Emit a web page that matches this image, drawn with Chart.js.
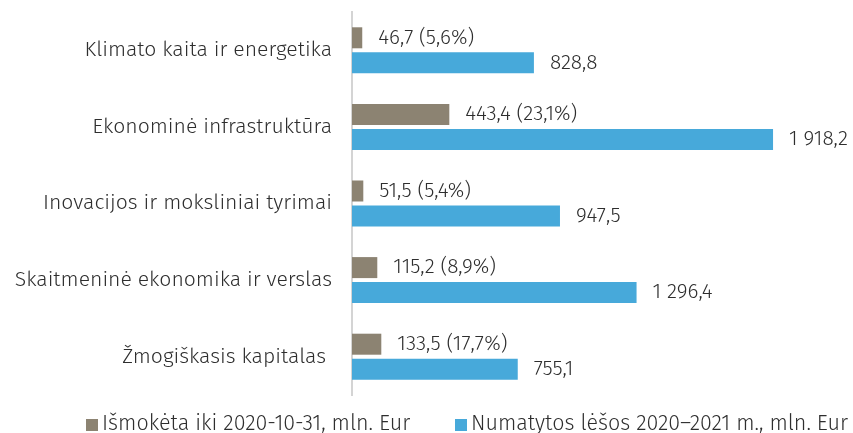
<!DOCTYPE html>
<html lang="lt">
<head>
<meta charset="utf-8">
<script src="https://cdn.jsdelivr.net/npm/chart.js@4.4.1/dist/chart.umd.min.js"></script>
<style>
  html, body { margin: 0; padding: 0; background: #ffffff; }
  #wrap { width: 853px; height: 433px; position: relative; }
</style>
</head>
<body>
<div id="wrap"><canvas id="chart"></canvas></div>
<script>
// Investment areas and funding (mln. Eur)
const categories = [
  'Klimato kaita ir energetika',
  'Ekonominė infrastruktūra',
  'Inovacijos ir moksliniai tyrimai',
  'Skaitmeninė ekonomika ir verslas',
  'Žmogiškasis kapitalas '
];
const paidLabel = 'Išmokėta iki 2020-10-31, mln. Eur';
const plannedLabel = 'Numatytos lėšos 2020–2021 m., mln. Eur';
const paidValues = [46.7, 443.4, 51.5, 115.2, 133.5];
const paidShare = [5.6, 23.1, 5.4, 8.9, 17.7];
const plannedValues = [828.8, 1918.2, 947.5, 1296.4, 755.1];

const FONT = '"Fira Sans", "Open Sans", "Noto Sans", sans-serif';
const TEXT_COLOR = '#2e2e2e';
const GREY = '#8c8372';
const BLUE = '#47a9da';

// Lithuanian number format: space as thousands separator, comma as decimal
function fmt(v) {
  const [i, d] = v.toFixed(1).split('.');
  return i.replace(/\B(?=(\d{3})+(?!\d))/g, ' ') + ',' + d;
}

// Value labels to the right of each bar
const valueLabels = {
  id: 'valueLabels',
  afterDatasetsDraw(chart) {
    const ctx = chart.ctx;
    ctx.save();
    ctx.font = '300 20.8px ' + FONT;
    ctx.fillStyle = TEXT_COLOR;
    ctx.textAlign = 'left';
    ctx.textBaseline = 'middle';
    chart.data.datasets.forEach((ds, di) => {
      chart.getDatasetMeta(di).data.forEach((bar, i) => {
        let txt = fmt(ds.data[i]);
        if (di === 0) txt += ' (' + fmt(paidShare[i]) + '%)';
        ctx.fillText(txt, bar.x + 16, bar.y);
      });
    });
    ctx.restore();
  }
};

// Legend drawn along the bottom edge
const bottomLegend = {
  id: 'bottomLegend',
  afterDraw(chart) {
    const ctx = chart.ctx;
    ctx.save();
    ctx.font = '300 21.5px ' + FONT;
    ctx.textBaseline = 'middle';
    ctx.textAlign = 'left';
    const y = 424;
    const starts = [86, 455];
    chart.data.datasets.forEach((ds, di) => {
      const x = starts[di];
      ctx.fillStyle = ds.backgroundColor;
      ctx.fillRect(x, y - 5, 12, 12);
      ctx.fillStyle = TEXT_COLOR;
      ctx.fillText(ds.label, x + 16, y);
    });
    ctx.restore();
  }
};

new Chart(document.getElementById('chart'), {
  type: 'bar',
  data: {
    labels: categories,
    datasets: [
      { label: paidLabel, data: paidValues, backgroundColor: GREY },
      { label: plannedLabel, data: plannedValues, backgroundColor: BLUE }
    ]
  },
  options: {
    indexAxis: 'y',
    responsive: true,
    maintainAspectRatio: false,
    animation: false,
    datasets: { bar: { categoryPercentage: 0.653, barPercentage: 0.84 } },
    layout: { padding: { top: 12, right: 62, bottom: 38, left: 0 } },
    plugins: { legend: { display: false }, tooltip: { enabled: false } },
    scales: {
      x: { display: false, min: 0, max: 2000 },
      y: {
        afterFit(scale) {
          scale.width = 352;
          scale.paddingTop = 0;
          scale.paddingBottom = 0;
        },
        grid: { display: false, drawTicks: false },
        border: { display: true, color: '#d4d4d4', width: 2 },
        ticks: {
          padding: 20,
          color: TEXT_COLOR,
          font: { family: FONT, size: 21.2, weight: 300 }
        }
      }
    }
  },
  plugins: [valueLabels, bottomLegend]
});
</script>
</body>
</html>
